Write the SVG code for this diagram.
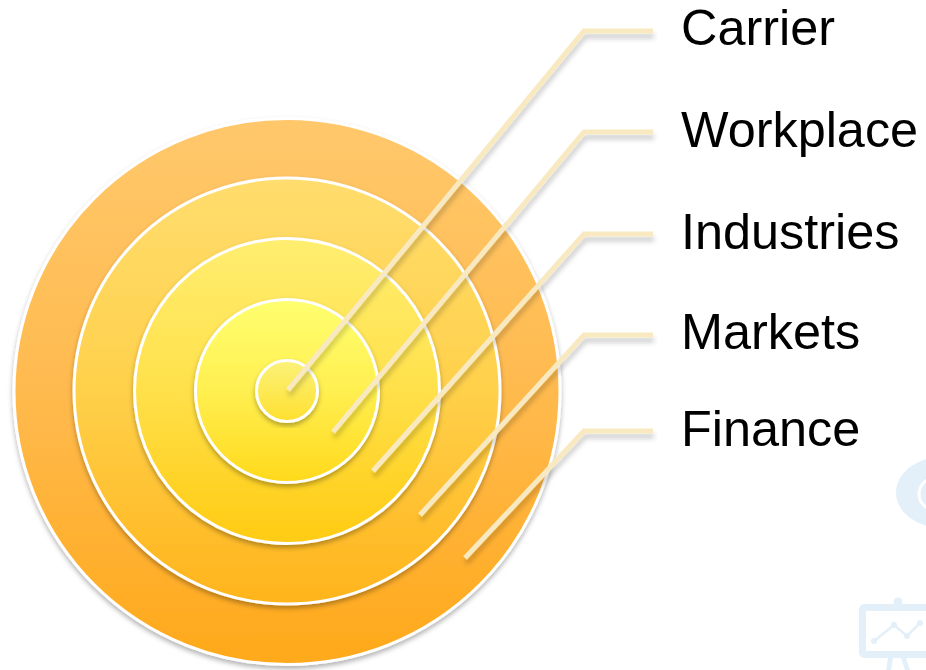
<svg xmlns="http://www.w3.org/2000/svg" width="926" height="670" viewBox="0 0 926 670">
<style>
.ring{stroke:#fff;stroke-width:3;filter:url(#ds)}
.lead{fill:none;stroke:#F8E9C0;stroke-width:5;stroke-linejoin:miter;filter:url(#ls)}
.lb{font-family:"Liberation Sans",Arial,sans-serif;font-size:50.4px;fill:#000}
.ic{fill:#E3F0F9}
.icl{fill:none;stroke:#E3F0F9;stroke-width:2.5}
</style>
<defs>
<filter id="ds" x="-10%" y="-10%" width="120%" height="120%"><feDropShadow dx="0" dy="3" stdDeviation="2.500" flood-color="#000" flood-opacity=".3"/></filter>
<filter id="ls" x="0" y="0" width="926" height="670" filterUnits="userSpaceOnUse" primitiveUnits="userSpaceOnUse"><feDropShadow dx="1" dy="5" stdDeviation="2.500" flood-color="#000" flood-opacity=".2"/></filter>
<linearGradient id="g1" x1="0" y1="0" x2="0" y2="1"><stop offset="0" stop-color="#FFC86C"/><stop offset=".5" stop-color="#FFBA4E"/><stop offset="1" stop-color="#FFA91A"/></linearGradient>
<linearGradient id="g2" x1="0" y1="0" x2="0" y2="1"><stop offset="0" stop-color="#FFDD6E"/><stop offset=".5" stop-color="#FFD04A"/><stop offset="1" stop-color="#FFB41C"/></linearGradient>
<linearGradient id="g3" x1="0" y1="0" x2="0" y2="1"><stop offset="0" stop-color="#FFEE70"/><stop offset=".5" stop-color="#FFE04A"/><stop offset="1" stop-color="#FFCB12"/></linearGradient>
<linearGradient id="g4" x1="0" y1="0" x2="0" y2="1"><stop offset="0" stop-color="#FFFF70"/><stop offset=".5" stop-color="#FFEF50"/><stop offset="1" stop-color="#FFD91C"/></linearGradient>
<linearGradient id="g5" x1="0" y1="0" x2="0" y2="1"><stop offset="0" stop-color="#FBF27A"/><stop offset="1" stop-color="#FFE030"/></linearGradient>
</defs>
<rect width="926" height="670" fill="#fff"/>
<g id="watermark-icons">
<ellipse class="ic" cx="942" cy="492.500" rx="46" ry="35.500"/>
<circle cx="935" cy="494" r="16" fill="none" stroke="#fff" stroke-width="3"/>
<circle class="ic" cx="898" cy="602" r="4.500"/>
<rect x="862.500" y="607.500" width="72" height="47" rx="2" fill="none" stroke="#E3F0F9" stroke-width="7"/>
<polyline class="icl" points="874,641 894,625 907,636 920,623"/>
<circle class="ic" cx="874" cy="641" r="3"/><circle class="ic" cx="894" cy="625" r="3"/><circle class="ic" cx="907" cy="636" r="3"/><circle class="ic" cx="920" cy="623" r="3"/>
<path class="ic" d="M888 658h5l-2 12h-5zM901 658h5l4 12h-5z"/>
</g>
<g id="rings">
<circle id="ring-finance" class="ring" cx="287" cy="391.500" r="273" fill="url(#g1)"/>
<circle id="ring-markets" class="ring" cx="287" cy="391" r="213" fill="url(#g2)"/>
<circle id="ring-industries" class="ring" cx="287" cy="391" r="152.500" fill="url(#g3)"/>
<circle id="ring-workplace" class="ring" cx="287" cy="391" r="91.500" fill="url(#g4)"/>
<circle id="ring-carrier" class="ring" cx="287" cy="391" r="30.500" fill="url(#g5)"/>
</g>
<g id="connectors">
<path class="lead" d="M288 390L584 31H653"/>
<path class="lead" d="M333 432L584 132H653"/>
<path class="lead" d="M373 471L584 234H653"/>
<path class="lead" d="M420 515L584 335H653"/>
<path class="lead" d="M465 558L584 431H653"/>
</g>
<g id="label-carrier"><text class="lb" x="681" y="45">Carrier</text></g>
<g id="label-workplace"><text class="lb" x="681" y="147">Workplace</text></g>
<g id="label-industries"><text class="lb" x="681" y="249">Industries</text></g>
<g id="label-markets"><text class="lb" x="681" y="349">Markets</text></g>
<g id="label-finance"><text class="lb" x="681" y="446">Finance</text></g>
</svg>
